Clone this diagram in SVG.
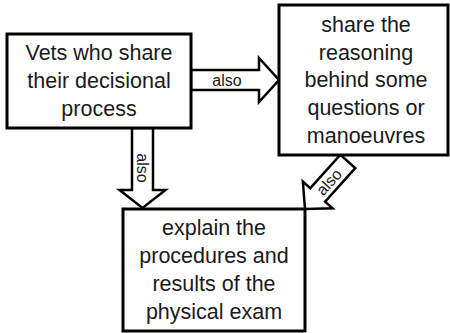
<svg xmlns="http://www.w3.org/2000/svg" width="450" height="333" viewBox="0 0 450 333">
<style>
.box{fill:#fff;stroke:#000;stroke-width:3}
.arr{fill:#fff;stroke:#000;stroke-width:2.5;stroke-linejoin:miter}
.t{font-family:"Liberation Sans",Arial,sans-serif;font-size:21.5px;fill:#1a1a1a;text-anchor:middle}
.lb{font-family:"Liberation Sans",Arial,sans-serif;font-size:16px;fill:#1a1a1a;text-anchor:middle}
</style>
<rect width="450" height="333" fill="#fff"/>
<g id="connectors">
<g id="arrow-right">
<polygon class="arr" transform="translate(191,80)" points="0,-10 68,-10 68,-22 88,0 68,22 68,10 0,10"/>
<text class="lb" x="227" y="85.5">also</text>
</g>
<g id="arrow-down">
<polygon class="arr" transform="translate(142.5,128) rotate(90)" points="0,-10.5 62,-10.5 62,-23 80,0 62,23 62,10.5 0,10.5"/>
<text class="lb" transform="translate(142.5,168) rotate(90)" x="0" y="5.5">also</text>
</g>
<g id="arrow-diag">
<polygon class="arr" transform="translate(305,209) rotate(132)" points="-64,-10 -19,-10 -19,-20 0,0 -19,20 -19,10 -64,10"/>
<text class="lb" transform="translate(329,182) rotate(-48)" x="0" y="5.5">also</text>
</g>
</g>
<g id="node-vets">
<rect class="box" x="7" y="34" width="184" height="94"/>
<text class="t" x="99" y="60">Vets who share</text>
<text class="t" x="99" y="88">their decisional</text>
<text class="t" x="99" y="116">process</text>
</g>
<g id="node-reasoning">
<rect class="box" x="279" y="5" width="169" height="150"/>
<text class="t" x="366" y="31.5">share the</text>
<text class="t" x="366" y="59.5">reasoning</text>
<text class="t" x="366" y="87">behind some</text>
<text class="t" x="366" y="115">questions or</text>
<text class="t" x="366" y="143">manoeuvres</text>
</g>
<g id="node-explain">
<rect class="box" x="123" y="209" width="182" height="122"/>
<text class="t" x="214" y="235">explain the</text>
<text class="t" x="214" y="263">procedures and</text>
<text class="t" x="214" y="291">results of the</text>
<text class="t" x="214" y="319">physical exam</text>
</g>
</svg>
